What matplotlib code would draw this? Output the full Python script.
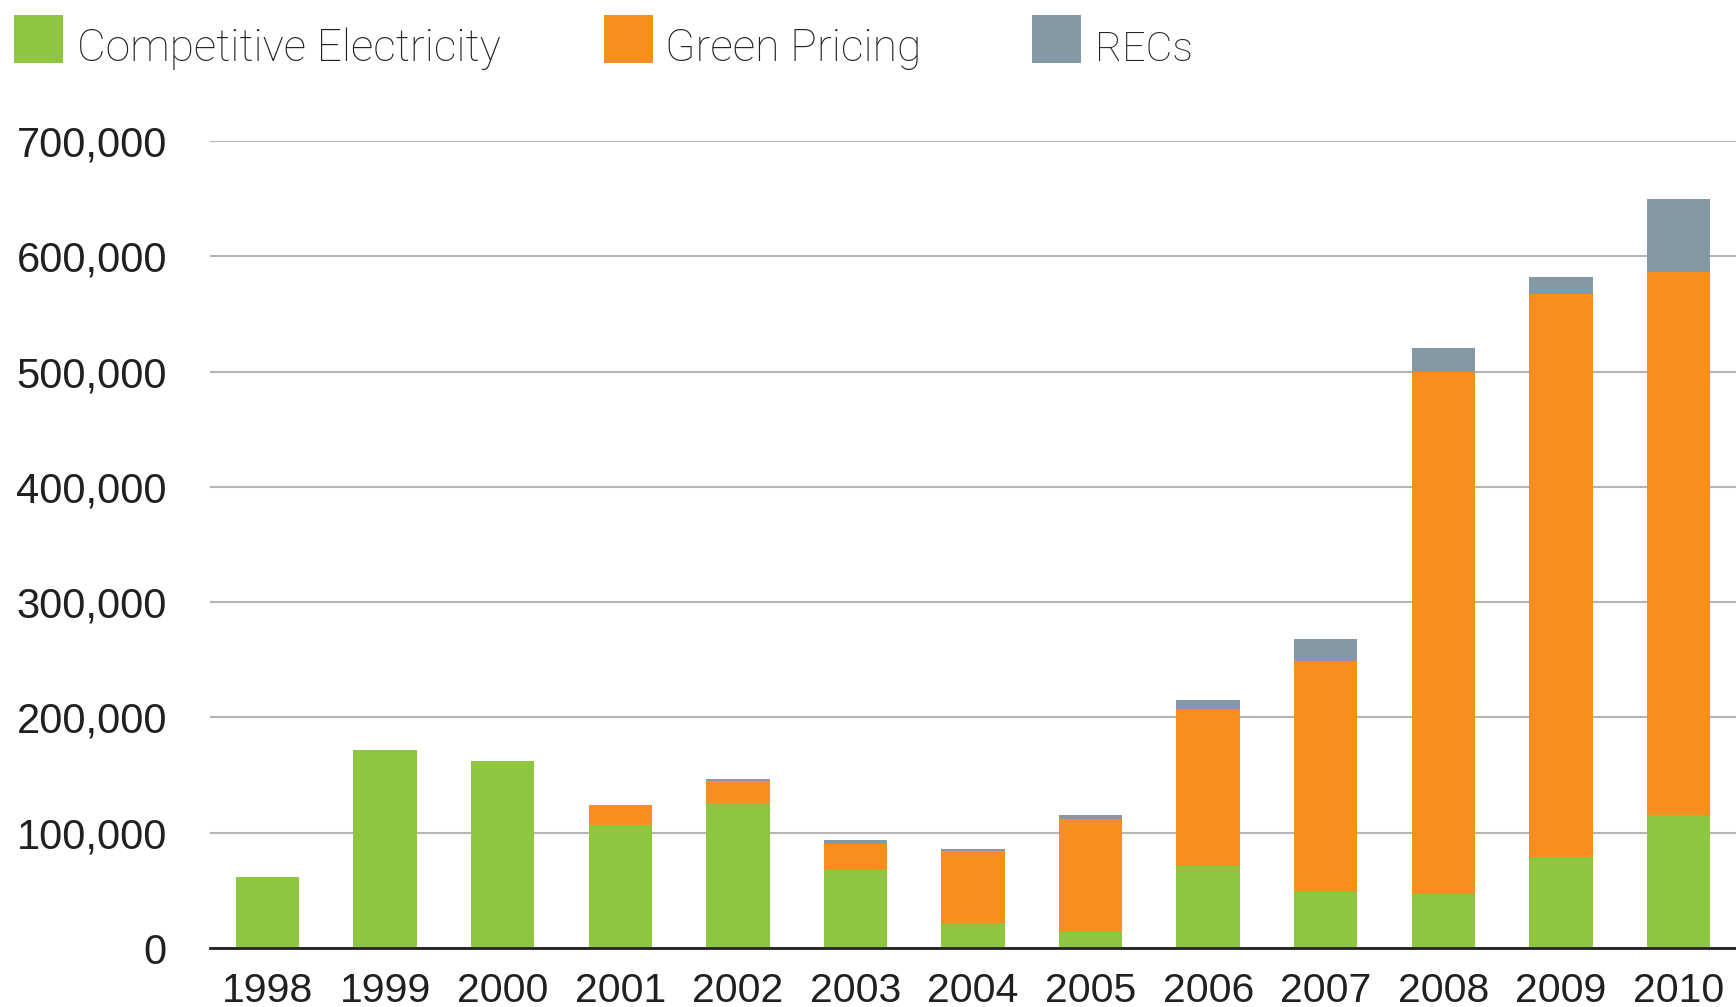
import matplotlib
matplotlib.use("Agg")
import matplotlib.pyplot as plt
from matplotlib.patches import Rectangle
from matplotlib.ticker import FuncFormatter
import numpy as np

years = ["1998", "1999", "2000", "2001", "2002", "2003", "2004",
         "2005", "2006", "2007", "2008", "2009", "2010"]
competitive = [62000, 172000, 162000, 107000, 126000, 68000, 22000,
               14000, 71000, 49000, 47000, 79000, 115000]
green_pricing = [0, 0, 0, 17000, 19000, 22000, 62000,
                 97500, 136000, 200000, 453000, 488500, 471500]
recs = [0, 0, 0, 0, 2000, 4000, 2000,
        4000, 8000, 19000, 20500, 14500, 63500]
series_names = ["Competitive Electricity", "Green Pricing", "RECs"]
colors = ["#8dc63f", "#f78f1e", "#8599a4"]
yticks = [0, 100000, 200000, 300000, 400000, 500000, 600000, 700000]

W, H = 1736, 1007
fig = plt.figure(figsize=(W / 100, H / 100), dpi=100)
ax = fig.add_axes([210 / W, 1 - 948 / H, 1 - 210 / W, (948 - 141) / H])

x = np.arange(len(years))
bw = 0.54
bottom = np.zeros(len(years))
for vals, c in zip([competitive, green_pricing, recs], colors):
    ax.bar(x, vals, bw, bottom=bottom, color=c, linewidth=0, zorder=3)
    bottom += np.array(vals)

ax.set_xlim(-0.49, len(years) - 1 + 0.49)
ax.set_ylim(0, 700000)
ax.set_yticks(yticks)
ax.yaxis.set_major_formatter(FuncFormatter(lambda v, p: f"{int(v):,}"))
ax.set_xticks(x)
ax.set_xticklabels(years)

ax.grid(axis="y", color="#b4b4b8", linewidth=1.5, zorder=1)
ax.grid(axis="x", visible=False)
for s in ["top", "right", "left"]:
    ax.spines[s].set_visible(False)
ax.spines["bottom"].set_color("#222222")
ax.spines["bottom"].set_linewidth(2)
ax.spines["bottom"].set_zorder(4)

ax.tick_params(axis="y", length=0, pad=31, labelsize=30, labelcolor="#231f20")
ax.tick_params(axis="x", length=0, pad=17, labelsize=29.5, labelcolor="#231f20")
for lab in ax.get_xticklabels() + ax.get_yticklabels():
    lab.set_family("Liberation Sans")

# legend across the top (square x, text x, text width in px)
legend_pos = [(14, 77, 423), (604, 665, 257), (1032, 1095, 98)]
renderer = fig.canvas.get_renderer()
for name, c, (sx, tx, tw) in zip(series_names, colors, legend_pos):
    fig.add_artist(Rectangle((sx / W, 1 - 63 / H), 49 / W, 48 / H,
                             transform=fig.transFigure, color=c, linewidth=0))
    t = fig.text(tx / W, 1 - 61 / H, name, fontsize=34, color="#222222",
                 family="Roboto", weight="light", va="baseline", ha="left")
    # fit the label to the width it has in the original
    w = t.get_window_extent(renderer).width
    t.set_fontsize(34 * tw / w)

fig.savefig("out.png", dpi=100)
